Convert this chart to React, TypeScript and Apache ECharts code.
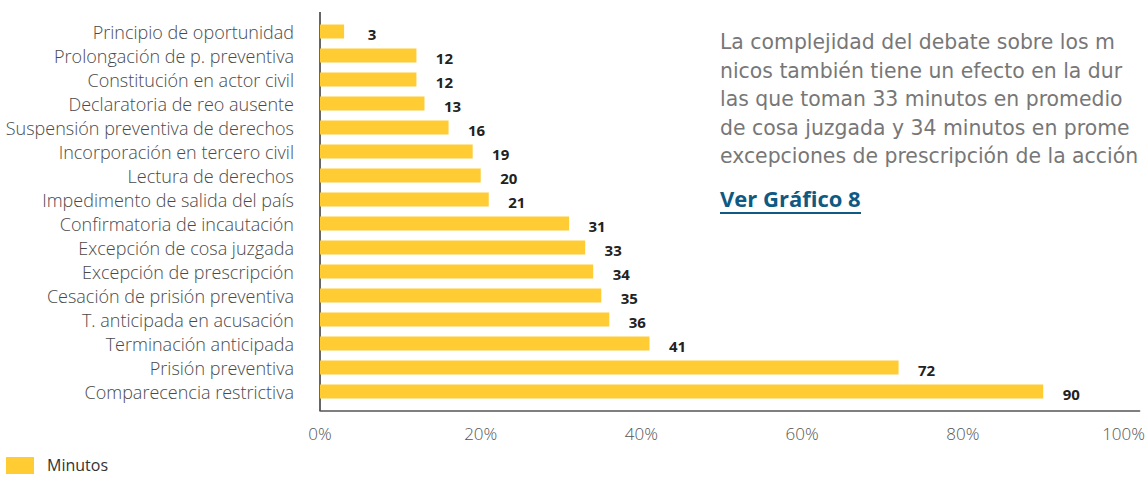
import React, { useEffect, useRef } from "react";
import * as echarts from "echarts";

const categories = [
  "Principio de oportunidad",
  "Prolongación de p. preventiva",
  "Constitución en actor civil",
  "Declaratoria de reo ausente",
  "Suspensión preventiva de derechos",
  "Incorporación en tercero civil",
  "Lectura de derechos",
  "Impedimento de salida del país",
  "Confirmatoria de incautación",
  "Excepción de cosa juzgada",
  "Excepción de prescripción",
  "Cesación de prisión preventiva",
  "T. anticipada en acusación",
  "Terminación anticipada",
  "Prisión preventiva",
  "Comparecencia restrictiva",
];
const minutos = [3, 12, 12, 13, 16, 19, 20, 21, 31, 33, 34, 35, 36, 41, 72, 90];
const seriesName = "Minutos";
const sideText = [
  "La complejidad del debate sobre los m",
  "nicos también tiene un efecto en la dur",
  "las que toman 33 minutos en promedio",
  "de cosa juzgada y 34 minutos en prome",
  "excepciones de prescripción de la acción",
];
const linkText = "Ver Gráfico 8";

const FONT = "'Open Sans', 'Noto Sans', sans-serif";
const WIDE = "'DejaVu Sans', 'Noto Sans', sans-serif";

export default function App() {
  const ref = useRef<HTMLDivElement>(null);
  useEffect(() => {
    if (!ref.current) return;
    const chart = echarts.init(ref.current, undefined, { renderer: "svg" });
    const textEls: any[] = sideText.map((t, i) => ({
      type: "text",
      left: 720,
      top: 32 + i * 28.6,
      style: { text: t, font: `20.4px ${WIDE}`, fill: "#777777" },
    }));
    chart.setOption({
      animation: false,
      grid: { left: 320, right: 6, top: 19.5, height: 384, containLabel: false },
      xAxis: {
        type: "value",
        min: 0,
        max: 102,
        interval: 20,
        offset: 7,
        splitLine: { show: false },
        axisLine: { show: true, lineStyle: { color: "#555", width: 1.5 } },
        axisTick: { show: false },
        axisLabel: {
          margin: 14,
          color: "#555",
          fontSize: 17,
          fontFamily: FONT,
          fontWeight: 300,
          formatter: (v: number) => (v % 20 === 0 ? v + "%" : ""),
        },
      },
      yAxis: {
        type: "category",
        data: categories,
        inverse: true,
        axisLine: { show: false },
        axisTick: { show: false },
        axisLabel: {
          margin: 26,
          color: "#4a4a4a",
          fontSize: 18,
          fontFamily: FONT,
          fontWeight: 300,
        },
      },
      series: [
        {
          name: seriesName,
          type: "bar",
          data: minutos,
          barWidth: 14,
          itemStyle: { color: "#FFCC33" },
          label: {
            show: true,
            position: "right",
            distance: 28,
            align: "center",
            offset: [0, 2],
            color: "#222",
            fontWeight: "bold",
            fontSize: 15,
            fontFamily: FONT,
          },
        },
      ],
      graphic: [
        {
          type: "line",
          shape: { x1: 320, y1: 12, x2: 320, y2: 411 },
          style: { stroke: "#333", lineWidth: 1.5 },
        },
        ...textEls,
        {
          type: "text",
          left: 720,
          top: 187,
          style: { text: linkText, font: `bold 22px ${FONT}`, fill: "#0E5A83" },
        },
        {
          type: "line",
          shape: { x1: 720, y1: 213, x2: 861, y2: 213 },
          style: { stroke: "#0E5A83", lineWidth: 2 },
        },
        {
          type: "rect",
          shape: { x: 6, y: 457, width: 28, height: 17 },
          style: { fill: "#FFCC33" },
        },
        {
          type: "text",
          left: 47,
          top: 457,
          style: { text: seriesName, font: `16px ${FONT}`, fill: "#333" },
        },
      ],
    });
    return () => chart.dispose();
  }, []);
  return <div ref={ref} style={{ width: 1148, height: 477, position: "absolute", left: 0, top: 0 }} />;
}
